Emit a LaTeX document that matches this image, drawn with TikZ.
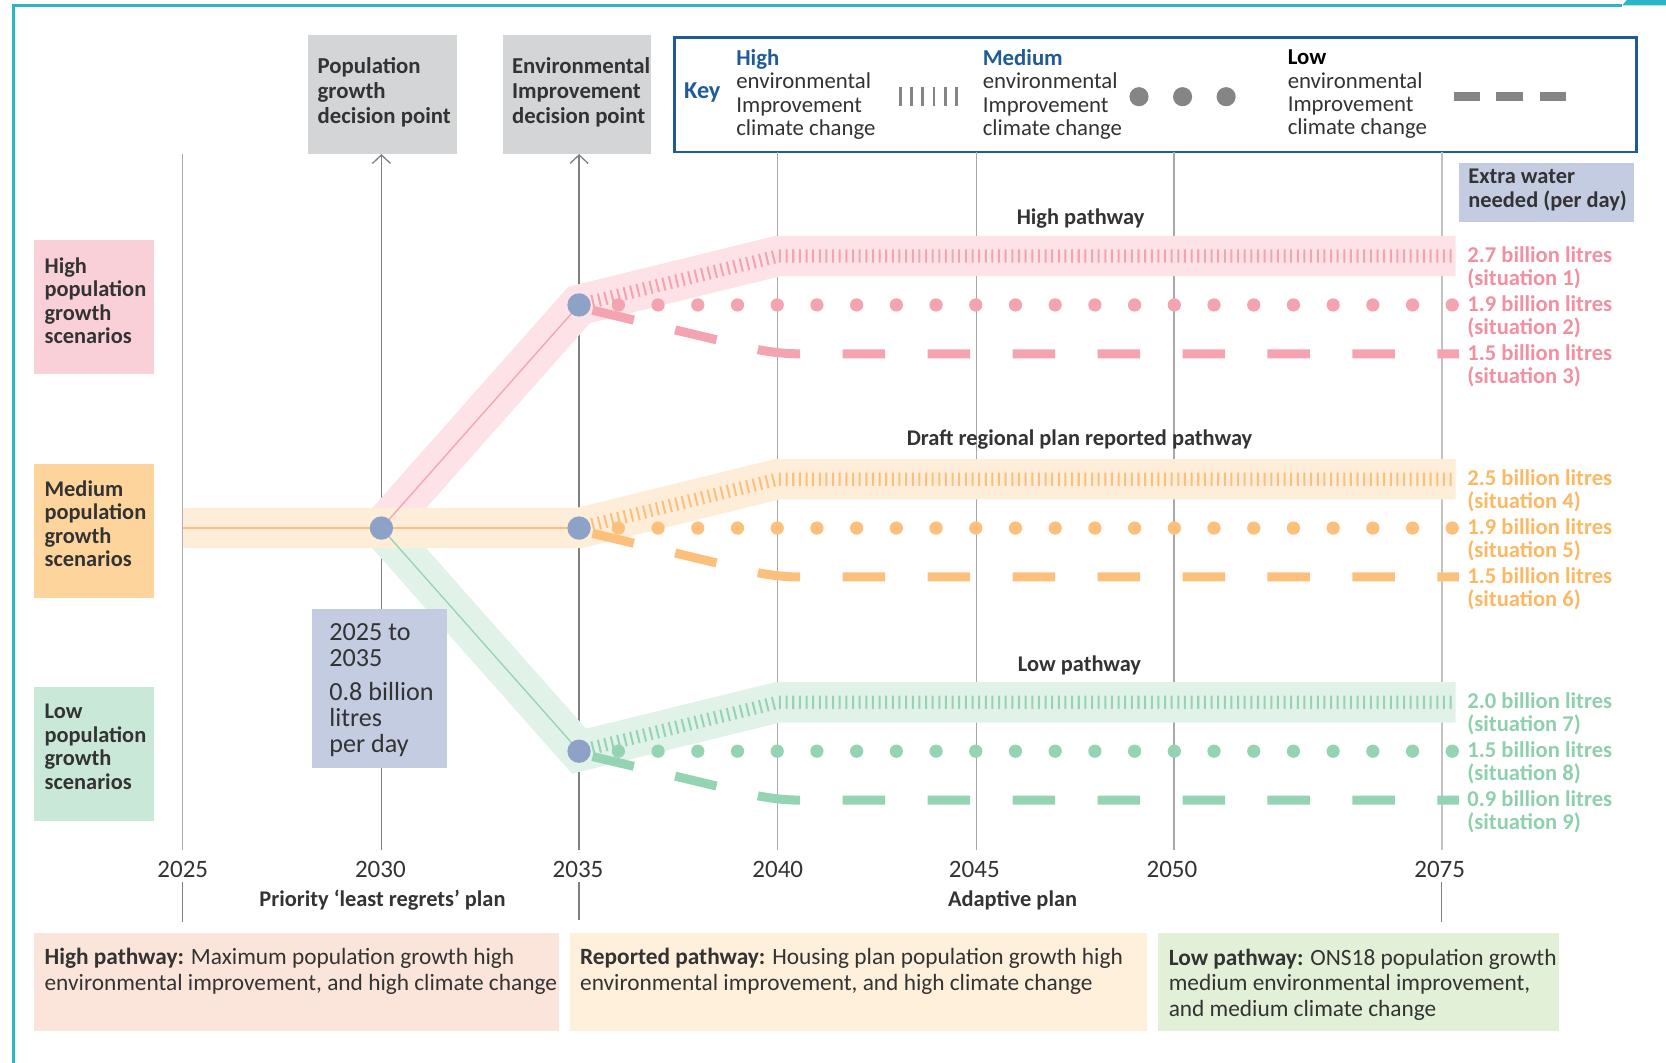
\documentclass[tikz,border=0pt]{standalone}
\usepackage{fontspec}
\setmainfont{Carlito}
\usetikzlibrary{arrows.meta}
\definecolor{frameteal}{HTML}{2BB5C8}
\definecolor{graybg}{HTML}{D4D5D7}
\definecolor{keyblue}{HTML}{1F5C97}
\definecolor{bluebg}{HTML}{C3CCE1}
\definecolor{dotblue}{HTML}{8EA2C8}
\definecolor{txtdark}{HTML}{333333}
\definecolor{keygray}{HTML}{858585}
\definecolor{gridgray}{HTML}{A8A8A8}
\definecolor{pinkband}{HTML}{FDE3E7}
\definecolor{pinkline}{HTML}{F4A3B0}
\definecolor{pinktxt}{HTML}{F28FA0}
\definecolor{pinkbox}{HTML}{F9D0D8}
\definecolor{orgband}{HTML}{FEEDD8}
\definecolor{orgline}{HTML}{FDC07C}
\definecolor{orgtxt}{HTML}{FCB862}
\definecolor{orgbox}{HTML}{FDD49B}
\definecolor{grnband}{HTML}{E1F2E8}
\definecolor{grnline}{HTML}{95D4B3}
\definecolor{grntxt}{HTML}{8ED0AE}
\definecolor{grnbox}{HTML}{CAE8D7}
\definecolor{botpink}{HTML}{FBE5DB}
\definecolor{botorg}{HTML}{FEF0DB}
\definecolor{botgrn}{HTML}{E3F0D8}
\begin{document}
\begin{tikzpicture}[x=0.02cm,y=-0.02cm,
  every node/.style={inner sep=0pt, outer sep=0pt},
  boldtxt/.style={font=\fontsize{12}{12.6}\selectfont\bfseries, text=txtdark, align=left},
  keytxt/.style={font=\fontsize{12.2}{12.5}\selectfont, text=txtdark, align=left},
  yeartxt/.style={font=\fontsize{13.4}{15}\selectfont, text=txtdark},
  bigtxt/.style={font=\fontsize{14}{13.9}\selectfont, text=txtdark, align=left},
  valtxt/.style={font=\fontsize{12.1}{12.5}\selectfont\bfseries, align=left},
  bottxt/.style={font=\fontsize{12.5}{13.7}\selectfont, text=txtdark, align=left},
  plainbox/.style={rectangle, draw=none},
  gridline/.style={draw=gridgray, line width=0.025cm},
  arrline/.style={draw=gray, line width=0.025cm, -{Straight Barb[length=0.16cm,width=0.34cm]}},
  decnode/.style={circle, fill=dotblue, minimum size=0.44cm},
  band/.style={line width=0.76cm, line join=miter},
  ticks/.style={line width=0.25cm, dash pattern=on 0.038cm off 0.087cm},
  dots/.style={line width=0.25cm, line cap=round, dash pattern=on 0cm off 0.7476cm},
  dashes/.style={line width=0.17cm, rounded corners=0.4cm, dash pattern=on 0.8cm off 0.8cm, dash phase=1.34cm}
]
\useasboundingbox (0,0) rectangle (1568,1000);
% frame
\draw[frameteal, line width=0.05cm] (13,1000) -- (13,5) -- (1527,5);
\fill[frameteal] (1527,5) -- (1531,0) -- (1568,0) -- (1568,5) -- cycle;

% decision boxes
\node[plainbox, fill=graybg, minimum width=2.8cm, minimum height=2.24cm] (pgbox) at (360,89) {};
\node[boldtxt, anchor=west, font=\fontsize{12.2}{13.4}\selectfont\bfseries] (pgtext) at (299,87) {Population\\growth\\decision point};
\node[plainbox, fill=graybg, minimum width=2.8cm, minimum height=2.24cm] (eibox) at (543,89) {};
\node[boldtxt, anchor=west, font=\fontsize{12.2}{13.4}\selectfont\bfseries] (eitext) at (482,87) {Environmental\\Improvement\\decision point};

% key
\node[plainbox, draw=keyblue, line width=0.05cm, fill=white, minimum width=18.1cm, minimum height=2.16cm] (keybox) at (1087.5,89) {};
\node[font=\fontsize{13}{14}\selectfont\bfseries, text=keyblue] (keylbl) at (661,87) {Key};
\node[keytxt, anchor=west] (keyhigh) at (693,89) {\textbf{\color{keyblue}High}\\environmental\\Improvement\\climate change};
\node[keytxt, anchor=west] (keymed) at (925,89) {\textbf{\color{keyblue}Medium}\\environmental\\Improvement\\climate change};
\node[keytxt, anchor=west] (keylow) at (1212,89) {\textbf{\color{black}Low}\\environmental\\Improvement\\climate change};
\draw[keygray, line width=0.36cm, dash pattern=on 0.05cm off 0.162cm] (846,91) -- (902,91);
\foreach \x in {1072,1113,1154} \fill[keygray] (\x,91) circle[radius=0.18cm];
\foreach \x in {1368,1408,1449} \fill[keygray] (\x,87) rectangle ++(25,8);

% extra water
\node[plainbox, fill=bluebg, minimum width=3.3cm, minimum height=1.12cm] (xwbox) at (1455.5,181) {};
\node[boldtxt, anchor=west] (xwtext) at (1382,179) {Extra water\\needed (per day)};

% scenario boxes
\node[plainbox, fill=pinkbox, minimum width=2.26cm, minimum height=2.52cm] (hibox) at (88.5,289) {};
\node[boldtxt, anchor=west] (hitext) at (42,283) {High\\population\\growth\\scenarios};
\node[plainbox, fill=orgbox, minimum width=2.26cm, minimum height=2.52cm] (mebox) at (88.5,500) {};
\node[boldtxt, anchor=west] (metext) at (42,493) {Medium\\population\\growth\\scenarios};
\node[plainbox, fill=grnbox, minimum width=2.26cm, minimum height=2.52cm] (lobox) at (88.5,710) {};
\node[boldtxt, anchor=west] (lotext) at (42,703) {Low\\population\\growth\\scenarios};

% year labels
\node[yeartxt] (y25) at (172,818) {2025};
\node[yeartxt] (y30) at (358,818) {2030};
\node[yeartxt] (y35) at (544,818) {2035};
\node[yeartxt] (y40) at (732,818) {2040};
\node[yeartxt] (y45) at (917,818) {2045};
\node[yeartxt] (y50) at (1103,818) {2050};
\node[yeartxt] (y75) at (1355,818) {2075};

% grid lines
\draw[gridline] (172,800) -- (172,145);
\draw[gridline] (732,800) -- (732,143);
\draw[gridline] (919,800) -- (919,143);
\draw[gridline] (1105,800) -- (1105,143);
\draw[draw=gridgray!70, line width=0.04cm] (1357,800) -- (1357,143);
\draw[arrline] (359,800) -- (pgbox.south -| 359,0);
\draw[arrline] (545,800) -- (eibox.south -| 545,0);
\draw[draw=gray, line width=0.025cm] (172,830) -- (172,868);
\draw[draw=gray, line width=0.025cm] (545,830) -- (545,866);
\draw[draw=gray, line width=0.025cm] (1357,830) -- (1357,868);

% bands
\draw[band, pinkband] (359,497) -- (545,287) -- (732,241) -- (1370,241);
\draw[band, grnband] (359,497) -- (545,707) -- (732,661) -- (1370,661);
\draw[band, orgband] (172,497) -- (545,497) -- (732,451) -- (1370,451);
\draw[pinkline, line width=0.025cm] (359,497) -- (545,287);
\draw[grnline, line width=0.025cm] (359,497) -- (545,707);
\draw[orgline, line width=0.04cm] (172,497) -- (545,497);

% pathways after 2035
\foreach \yy/\cc in {287/pinkline, 497/orgline, 707/grnline}{
  \draw[ticks, \cc] (545,\yy) -- ++(187,-46) -- (1368,\yy-46);
  \draw[dots, \cc] (582,\yy) -- (1368,\yy);
  \draw[dashes, \cc] (545,\yy+2) -- (730,\yy+46) -- (1373,\yy+46);
}

% decision nodes
\node[decnode] (n30) at (359,497) {};
\node[decnode] (n35h) at (545,287) {};
\node[decnode] (n35m) at (545,497) {};
\node[decnode] (n35l) at (545,707) {};

% blue summary box
\node[plainbox, fill=bluebg, minimum width=2.54cm, minimum height=3cm] (sumbox) at (357.5,648) {};
\node[bigtxt, anchor=west] (sumtext) at (310,649.5) {2025 to\\2035\\[0.16cm]0.8 billion\\litres\\per day};

% pathway titles
\node[boldtxt] (thigh) at (1017,206) {High pathway};
\node[boldtxt] (tmed) at (1016,414) {Draft regional plan reported pathway};
\node[boldtxt] (tlow) at (1016,626) {Low pathway};

% values
\node[valtxt, text=pinktxt, anchor=west] (v1) at (1381,252) {2.7 billion litres\\(situation 1)};
\node[valtxt, text=pinktxt, anchor=west] (v2) at (1381,298) {1.9 billion litres\\(situation 2)};
\node[valtxt, text=pinktxt, anchor=west] (v3) at (1381,344) {1.5 billion litres\\(situation 3)};
\node[valtxt, text=orgtxt, anchor=west] (v4) at (1381,462) {2.5 billion litres\\(situation 4)};
\node[valtxt, text=orgtxt, anchor=west] (v5) at (1381,508) {1.9 billion litres\\(situation 5)};
\node[valtxt, text=orgtxt, anchor=west] (v6) at (1381,554) {1.5 billion litres\\(situation 6)};
\node[valtxt, text=grntxt, anchor=west] (v7) at (1381,672) {2.0 billion litres\\(situation 7)};
\node[valtxt, text=grntxt, anchor=west] (v8) at (1381,718) {1.5 billion litres\\(situation 8)};
\node[valtxt, text=grntxt, anchor=west] (v9) at (1381,764) {0.9 billion litres\\(situation 9)};

% plan labels
\node[boldtxt, font=\fontsize{12}{13}\selectfont\bfseries] (plan1) at (360,847) {Priority ‘least regrets’ plan};
\node[boldtxt, font=\fontsize{12}{13}\selectfont\bfseries] (plan2) at (953,847) {Adaptive plan};

% bottom boxes
\node[plainbox, fill=botpink, minimum width=9.88cm, minimum height=1.84cm] (b1) at (279,924) {};
\node[bottxt, anchor=west] (b1t) at (42,914) {\textbf{High pathway:} Maximum population growth high\\environmental improvement, and high climate change};
\node[plainbox, fill=botorg, minimum width=10.88cm, minimum height=1.84cm] (b2) at (808,924) {};
\node[bottxt, anchor=west] (b2t) at (546,914) {\textbf{Reported pathway:} Housing plan population growth high\\environmental improvement, and high climate change};
\node[plainbox, fill=botgrn, minimum width=7.54cm, minimum height=1.84cm] (b3) at (1278.5,924) {};
\node[bottxt, anchor=west] (b3t) at (1100,926.5) {\textbf{Low pathway:} ONS18 population growth\\medium environmental improvement,\\and medium climate change};
\end{tikzpicture}
\end{document}
